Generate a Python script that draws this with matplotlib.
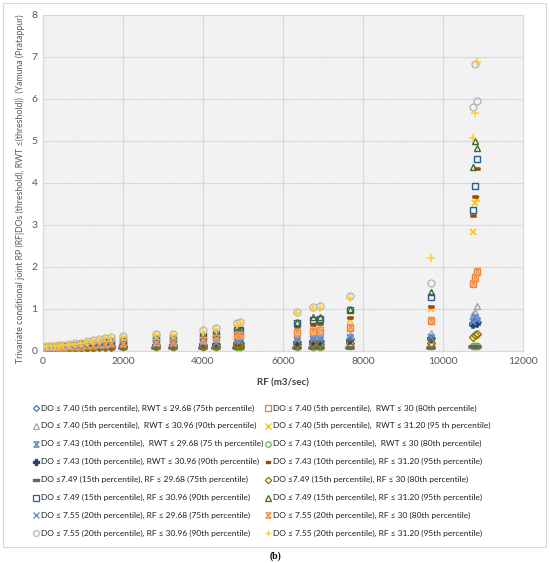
import matplotlib
matplotlib.use('Agg')
import matplotlib.pyplot as plt
from matplotlib.path import Path
from matplotlib.patches import Rectangle

plt.rcParams['font.family'] = ['Lato', 'DejaVu Sans']
plt.rcParams['hatch.linewidth'] = 0.35

# RF values (m3/sec), shared by all series
rf = [0, 100, 200, 300, 400, 500, 650, 800, 950, 1100, 1250, 1400, 1550, 1700,
      2000, 2825, 3250, 4000, 4325, 4850, 4925, 6350, 6750, 6925, 7675, 9700, 10750, 10800, 10850]

# conditional joint return periods
s01 = [0.08, 0.08, 0.08, 0.08, 0.09, 0.09, 0.09, 0.10, 0.10, 0.10, 0.11, 0.11, 0.12, 0.12,
       0.12, 0.14, 0.14, 0.15, 0.17, 0.19, 0.20, 0.22, 0.23, 0.24, 0.28, 0.30, 0.66, 0.74, 0.68]
s02 = [0.08, 0.09, 0.09, 0.09, 0.10, 0.10, 0.11, 0.11, 0.12, 0.13, 0.14, 0.15, 0.16, 0.17,
       0.18, 0.21, 0.21, 0.24, 0.28, 0.34, 0.36, 0.42, 0.45, 0.46, 0.54, 0.71, 1.59, 1.73, 1.87]
s03 = [0.08, 0.08, 0.09, 0.09, 0.09, 0.10, 0.10, 0.11, 0.11, 0.12, 0.13, 0.13, 0.14, 0.15,
       0.16, 0.18, 0.18, 0.20, 0.22, 0.26, 0.27, 0.31, 0.33, 0.34, 0.37, 0.42, 0.88, 0.93, 1.07]
s04 = [0.09, 0.09, 0.10, 0.10, 0.10, 0.11, 0.12, 0.12, 0.13, 0.15, 0.16, 0.18, 0.19, 0.21,
       0.22, 0.25, 0.25, 0.29, 0.33, 0.40, 0.42, 0.55, 0.60, 0.60, 0.75, 1.00, 2.83, 3.52, 3.62]
s05 = [0.08, 0.08, 0.08, 0.09, 0.09, 0.09, 0.09, 0.10, 0.10, 0.11, 0.11, 0.12, 0.12, 0.13,
       0.13, 0.15, 0.15, 0.17, 0.19, 0.21, 0.22, 0.24, 0.26, 0.27, 0.31, 0.32, 0.72, 0.78, 0.71]
s06 = [0.07, 0.07, 0.07, 0.07, 0.08, 0.08, 0.08, 0.08, 0.08, 0.08, 0.08, 0.09, 0.09, 0.09,
       0.09, 0.09, 0.09, 0.09, 0.10, 0.10, 0.10, 0.10, 0.10, 0.10, 0.11, 0.11, 0.12, 0.12, 0.12]
s07 = [0.08, 0.08, 0.08, 0.08, 0.09, 0.09, 0.09, 0.09, 0.10, 0.10, 0.10, 0.11, 0.11, 0.11,
       0.12, 0.13, 0.13, 0.14, 0.15, 0.17, 0.18, 0.20, 0.21, 0.22, 0.25, 0.28, 0.62, 0.70, 0.64]
s08 = [0.09, 0.09, 0.10, 0.10, 0.11, 0.11, 0.12, 0.13, 0.14, 0.15, 0.17, 0.19, 0.20, 0.22,
       0.23, 0.26, 0.26, 0.31, 0.35, 0.42, 0.44, 0.58, 0.62, 0.64, 0.79, 1.05, 3.21, 3.67, 4.33]
s09 = [0.06, 0.06, 0.06, 0.06, 0.06, 0.07, 0.07, 0.07, 0.07, 0.07, 0.07, 0.07, 0.07, 0.07,
       0.07, 0.07, 0.07, 0.07, 0.08, 0.08, 0.08, 0.08, 0.08, 0.08, 0.08, 0.08, 0.09, 0.09, 0.09]
s10 = [0.07, 0.08, 0.08, 0.08, 0.08, 0.08, 0.09, 0.09, 0.09, 0.09, 0.10, 0.10, 0.10, 0.10,
       0.11, 0.11, 0.11, 0.12, 0.13, 0.15, 0.15, 0.16, 0.17, 0.17, 0.19, 0.19, 0.34, 0.37, 0.40]
s11 = [0.09, 0.10, 0.10, 0.11, 0.11, 0.12, 0.13, 0.14, 0.16, 0.17, 0.19, 0.21, 0.23, 0.25,
       0.26, 0.30, 0.30, 0.35, 0.40, 0.49, 0.51, 0.67, 0.75, 0.77, 0.98, 1.29, 3.36, 3.93, 4.57]
s12 = [0.09, 0.10, 0.10, 0.11, 0.12, 0.12, 0.13, 0.15, 0.16, 0.18, 0.20, 0.22, 0.25, 0.27,
       0.28, 0.32, 0.32, 0.37, 0.42, 0.52, 0.54, 0.70, 0.80, 0.82, 1.00, 1.40, 4.38, 5.00, 4.83]
s13 = [0.08, 0.08, 0.08, 0.09, 0.09, 0.09, 0.10, 0.10, 0.11, 0.11, 0.12, 0.12, 0.13, 0.14,
       0.14, 0.16, 0.16, 0.18, 0.20, 0.23, 0.24, 0.26, 0.28, 0.29, 0.33, 0.34, 0.69, 0.81, 0.75]
s14 = [0.08, 0.09, 0.09, 0.10, 0.10, 0.10, 0.11, 0.12, 0.13, 0.14, 0.15, 0.16, 0.17, 0.18,
       0.19, 0.22, 0.22, 0.26, 0.30, 0.37, 0.39, 0.45, 0.48, 0.49, 0.57, 0.74, 1.62, 1.76, 1.90]
s15 = [0.10, 0.11, 0.12, 0.13, 0.14, 0.15, 0.16, 0.18, 0.20, 0.23, 0.26, 0.28, 0.31, 0.33,
       0.36, 0.41, 0.41, 0.49, 0.55, 0.66, 0.69, 0.93, 1.05, 1.06, 1.30, 1.62, 5.81, 6.83, 5.95]
s16 = [0.10, 0.11, 0.11, 0.12, 0.13, 0.14, 0.15, 0.17, 0.19, 0.22, 0.25, 0.27, 0.30, 0.32,
       0.34, 0.39, 0.39, 0.46, 0.52, 0.63, 0.66, 0.90, 1.02, 1.03, 1.26, 2.21, 5.07, 5.67, 6.88]

labels = [
    'DO ≤ 7.40 (5th percentile), RWT ≤ 29.68 (75th percentile)',
    'DO ≤ 7.40 (5th percentile),  RWT ≤ 30 (80th percentile)',
    'DO ≤ 7.40 (5th percentile),  RWT ≤ 30.96 (90th percentile)',
    'DO ≤ 7.40 (5th percentile),  RWT ≤ 31.20 (95 th percentile)',
    'DO ≤ 7.43 (10th percentile),  RWT ≤ 29.68 (75 th percentile)',
    'DO ≤ 7.43 (10th percentile),  RWT ≤ 30 (80th percentile)',
    'DO ≤ 7.43 (10th percentile), RWT ≤ 30.96 (90th percentile)',
    'DO ≤ 7.43 (10th percentile), RF ≤ 31.20 (95th percentile)',
    'DO ≤7.49 (15th percentile), RF ≤ 29.68 (75th percentile)',
    'DO ≤7.49 (15th percentile), RF ≤ 30 (80th percentile)',
    'DO ≤ 7.49 (15th percentile), RF ≤ 30.96 (90th percentile)',
    'DO ≤ 7.49 (15th percentile), RF ≤ 31.20 (95th percentile)',
    'DO ≤ 7.55 (20th percentile), RF ≤ 29.68 (75th percentile)',
    'DO ≤ 7.55 (20th percentile), RF ≤ 30 (80th percentile)',
    'DO ≤ 7.55 (20th percentile), RF ≤ 30.96 (90th percentile)',
    'DO ≤ 7.55 (20th percentile), RF ≤ 31.20 (95th percentile)',
]
series = [s01, s02, s03, s04, s05, s06, s07, s08, s09, s10, s11, s12, s13, s14, s15, s16]
colors = ['#4472C4', '#ED7D31', '#A5A5A5', '#FFC000', '#5B9BD5', '#70AD47',
          '#264478', '#9E480E', '#636363', '#997300', '#255E91', '#43682B',
          '#698ED0', '#F1975A', '#B7B7B7', '#FFCD33']

# excel-like markers
M, L = Path.MOVETO, Path.LINETO
star = Path([(-1, -1), (1, 1), (-1, 1), (1, -1), (-1, 1), (1, 1), (-1, -1), (1, -1)],
            [M, L, M, L, M, L, M, L])
dash = Path([(-1, -0.3), (1, -0.3), (1, 0.3), (-1, 0.3), (-1, -0.3)],
            [M, L, L, L, Path.CLOSEPOLY])
# (marker, size, open?)
mk = [('D', 3.6, True), ('s', 4.4, True), ('^', 4.8, True), ('x', 4.4, False),
      (star, 4.6, False), ('o', 4.6, True), ('P', 4.6, False), (dash, 3.6, False),
      (dash, 5.4, False), ('D', 3.8, True), ('s', 4.6, True), ('^', 5.0, True),
      ('x', 4.4, False), (star, 4.6, False), ('o', 5.0, True), ('+', 5.4, False)]

fig = plt.figure(figsize=(5.5, 5.63), dpi=100)
ax = fig.add_axes([43 / 550, 1 - 351 / 563, 480 / 550, 336 / 563])

# hatched plot area
ax.add_patch(Rectangle((0, 0), 1, 1, transform=ax.transAxes, facecolor='white',
                       edgecolor='#E6E6E6', hatch='\\' * 24, lw=0, zorder=0))

for i in range(16):
    m, ms, hollow = mk[i]
    if hollow:
        ax.plot(rf, series[i], linestyle='none', marker=m, ms=ms, mfc='none',
                mec=colors[i], mew=1.0, zorder=3 + i)
    else:
        ax.plot(rf, series[i], linestyle='none', marker=m, ms=ms, color=colors[i],
                mew=1.1, zorder=3 + i)

ax.set_xlim(0, 12000)
ax.set_ylim(0, 8)
ax.set_xticks(range(0, 12001, 2000))
ax.set_yticks(range(0, 9))
ax.grid(color='#D9D9D9', linewidth=0.8, zorder=1)
ax.set_axisbelow(True)
for sp in ax.spines.values():
    sp.set_color('#D9D9D9')
ax.tick_params(length=0, labelsize=7.5, colors='#595959', pad=4)
ax.set_xlabel('RF (m3/sec)', fontsize=7, fontweight='bold', color='#404040', labelpad=9)
ax.set_ylabel('Trivariate conditional joint RP (RF|DOs (threshold), RWT ≤(threshold))  (Yamuna (Pratappur)',
              fontsize=6.3, color='#595959')
ax.yaxis.set_label_coords(-0.038, 0.484)

# legend drawn on a full-figure overlay (pixel coordinates)
lg = fig.add_axes([0, 0, 1, 1], facecolor='none')
lg.set_xlim(0, 550)
lg.set_ylim(563, 0)
lg.axis('off')
lg.add_patch(Rectangle((3, 3), 543, 544, fill=False, edgecolor='#D9D9D9', lw=0.8))
col_x = [36, 268]
row_y0, row_dy = 408, 17.9
for i in range(16):
    cx = col_x[i % 2]
    cy = row_y0 + (i // 2) * row_dy
    m, ms, hollow = mk[i]
    if hollow:
        lg.plot([cx], [cy], linestyle='none', marker=m, ms=ms * 0.85, mfc='none', mec=colors[i], mew=0.9)
    else:
        lg.plot([cx], [cy], linestyle='none', marker=m, ms=ms * 0.85, color=colors[i], mew=1.0)
    lg.text(cx + 5, cy, labels[i], fontsize=6.0, color='#1F1F1F', va='center', ha='left')

lg.text(275, 556, '(b)', fontsize=7, fontweight='bold', family='Liberation Serif',
        ha='center', va='center')

fig.savefig('out.png', dpi=100)
